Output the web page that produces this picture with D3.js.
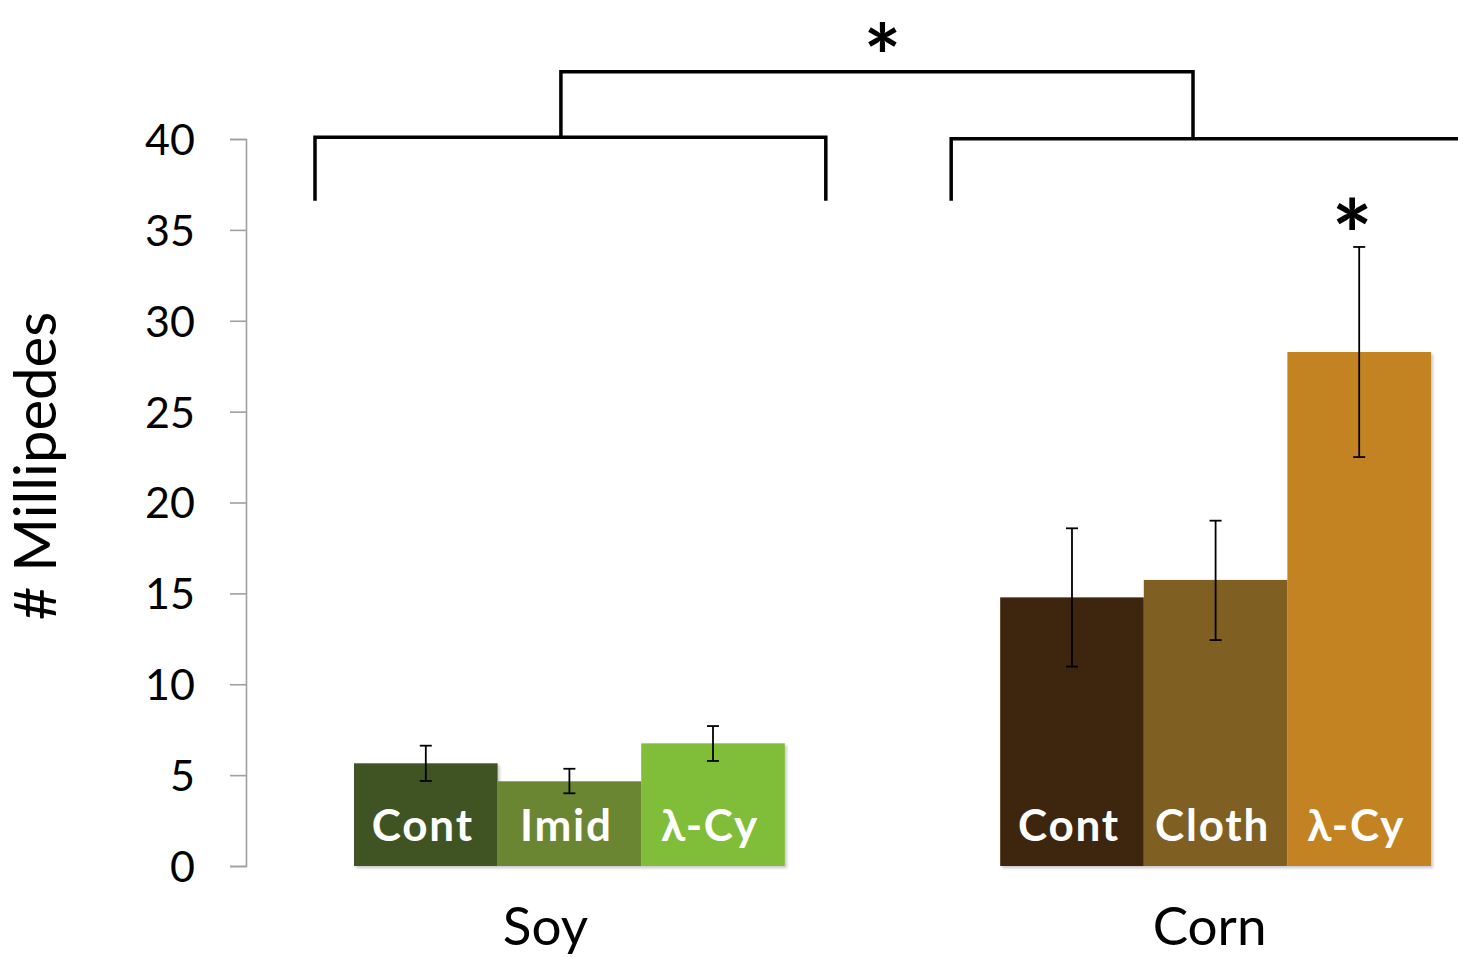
<!DOCTYPE html>
<html>
<head>
<meta charset="utf-8">
<script src="https://cdn.jsdelivr.net/npm/d3@7"></script>
<style>
  html, body { margin: 0; padding: 0; background: #ffffff; }
  svg { display: block; }
  text { font-family: Lato, "Open Sans", sans-serif; }
</style>
</head>
<body>
<svg id="chart" width="1458" height="957"></svg>
<script>
// Crops and treatments
const groups = ["Soy", "Corn"];
const treatments = {
  Soy: ["Cont", "Imid", "λ-Cy"],
  Corn: ["Cont", "Cloth", "λ-Cy"]
};
// Mean number of millipedes per treatment
const means = {
  Soy: [5.65, 4.66, 6.75],
  Corn: [14.78, 15.74, 28.28]
};
// Error bar limits (upper, lower)
const errUpper = {
  Soy: [6.62, 5.35, 7.70],
  Corn: [18.58, 19.0, 34.06]
};
const errLower = {
  Soy: [4.68, 4.0, 5.78],
  Corn: [10.97, 12.43, 22.5]
};
const barColors = {
  Soy: ["#405221", "#6a8631", "#80bd38"],
  Corn: ["#3e270d", "#7f5f24", "#c38321"]
};
const yTicks = [0, 5, 10, 15, 20, 25, 30, 35, 40];
const yTitle = "# Millipedes";

const svg = d3.select("#chart");

// Soft shadow under the bars
const defs = svg.append("defs");
const f = defs.append("filter").attr("id", "shadow")
  .attr("x", "-5%").attr("y", "-5%").attr("width", "115%").attr("height", "115%");
f.append("feDropShadow").attr("dx", 2).attr("dy", 2).attr("stdDeviation", 1.5)
  .attr("flood-color", "#000").attr("flood-opacity", 0.22);

const y = d3.scaleLinear().domain([0, 40]).range([866, 139]);
const x0 = d3.scaleBand().domain(groups).range([354, 1431]).paddingInner(0.3333).paddingOuter(0);
const x1 = d3.scaleBand().domain([0, 1, 2]).range([0, x0.bandwidth()]).padding(0);

// Y axis
const axisX = 246;
const yAxis = d3.axisLeft(y).tickValues(yTicks).tickSize(16).tickSizeOuter(16).tickPadding(35);
const gAxis = svg.append("g").attr("transform", `translate(${axisX},0)`).call(yAxis);
gAxis.selectAll("path, line").attr("stroke", "#a0a0a0").attr("stroke-width", 1.6);
gAxis.selectAll("text")
  .attr("font-family", "Lato, sans-serif")
  .attr("font-size", 43)
  .attr("fill", "#000")
  .attr("dy", "0.36em");

// Y title
svg.append("text")
  .attr("transform", `translate(56,${466}) rotate(-90)`)
  .attr("text-anchor", "middle")
  .attr("font-size", 58)
  .attr("fill", "#000")
  .text(yTitle);

// Bars, labels and error bars
groups.forEach(gname => {
  const g = svg.append("g").attr("transform", `translate(${x0(gname)},0)`);
  const rows = means[gname].map((v, i) => ({
    i, v, hi: errUpper[gname][i], lo: errLower[gname][i],
    label: treatments[gname][i], color: barColors[gname][i]
  }));

  g.selectAll("rect.bar").data(rows).join("rect")
    .attr("class", "bar")
    .attr("x", d => x1(d.i))
    .attr("y", d => y(d.v))
    .attr("width", x1.bandwidth())
    .attr("height", d => y(0) - y(d.v))
    .attr("fill", d => d.color)
    .attr("filter", "url(#shadow)");

  g.selectAll("text.blabel").data(rows).join("text")
    .attr("class", "blabel")
    .attr("x", d => x1(d.i) + x1.bandwidth() / 2 - 3)
    .attr("y", 841)
    .attr("text-anchor", "middle")
    .attr("font-size", 44)
    .attr("font-weight", "bold")
    .attr("letter-spacing", 1.8)
    .attr("fill", "#ffffff")
    .text(d => d.label);

  const eb = g.selectAll("g.err").data(rows).join("g").attr("class", "err")
    .attr("transform", d => `translate(${x1(d.i) + x1.bandwidth() / 2},0)`)
    .attr("stroke", "#000").attr("stroke-width", 1.8);
  eb.append("line").attr("x1", 0).attr("x2", 0)
    .attr("y1", d => y(d.hi)).attr("y2", d => y(d.lo));
  eb.append("line").attr("x1", -6).attr("x2", 6)
    .attr("y1", d => y(d.hi)).attr("y2", d => y(d.hi));
  eb.append("line").attr("x1", -6).attr("x2", 6)
    .attr("y1", d => y(d.lo)).attr("y2", d => y(d.lo));
});

// Category labels
const catOffset = { Soy: -24, Corn: -6 };
svg.selectAll("text.cat").data(groups).join("text")
  .attr("class", "cat")
  .attr("x", d => x0(d) + x0.bandwidth() / 2 + catOffset[d])
  .attr("y", 945)
  .attr("text-anchor", "middle")
  .attr("font-size", 53)
  .attr("fill", "#000")
  .text(d => d);

// Significance brackets (levels in data units)
const legBottom = 36.6, groupLevel = 40.1, topLevel = 43.7;
const soyL = x0("Soy") - 39, soyR = x0("Soy") + x0.bandwidth() + 41;
const cornL = x0("Corn") - 49, cornR = 1470;
const bracket = svg.append("g").attr("fill", "none").attr("stroke", "#000")
  .attr("stroke-width", 3.5).attr("stroke-linejoin", "miter");
bracket.append("path").attr("d",
  `M${soyL},${y(legBottom)}V${y(groupLevel)}H${soyR}V${y(legBottom)}`);
bracket.append("path").attr("d",
  `M${cornL},${y(legBottom)}V${y(groupLevel) + 1.5}H${cornR}`);
const topL = (soyL + soyR) / 2 - 9.5;
const topR = 1193;
bracket.append("path").attr("d",
  `M${topL},${y(groupLevel)}V${y(topLevel)}H${topR}V${y(groupLevel) + 1.5}`);

// Significance stars
const starFont = "'DejaVu Sans', sans-serif";
svg.append("text")
  .attr("x", (topL + topR) / 2 + 5.5).attr("y", 89)
  .attr("text-anchor", "middle").attr("font-size", 88).attr("font-weight", "bold")
  .attr("font-family", starFont)
  .attr("fill", "#000").text("*");
svg.append("text")
  .attr("x", x0("Corn") + x1(2) + x1.bandwidth() / 2 - 7).attr("y", 270)
  .attr("text-anchor", "middle").attr("font-size", 96).attr("font-weight", "bold")
  .attr("font-family", starFont)
  .attr("fill", "#000").text("*");
</script>
</body>
</html>
